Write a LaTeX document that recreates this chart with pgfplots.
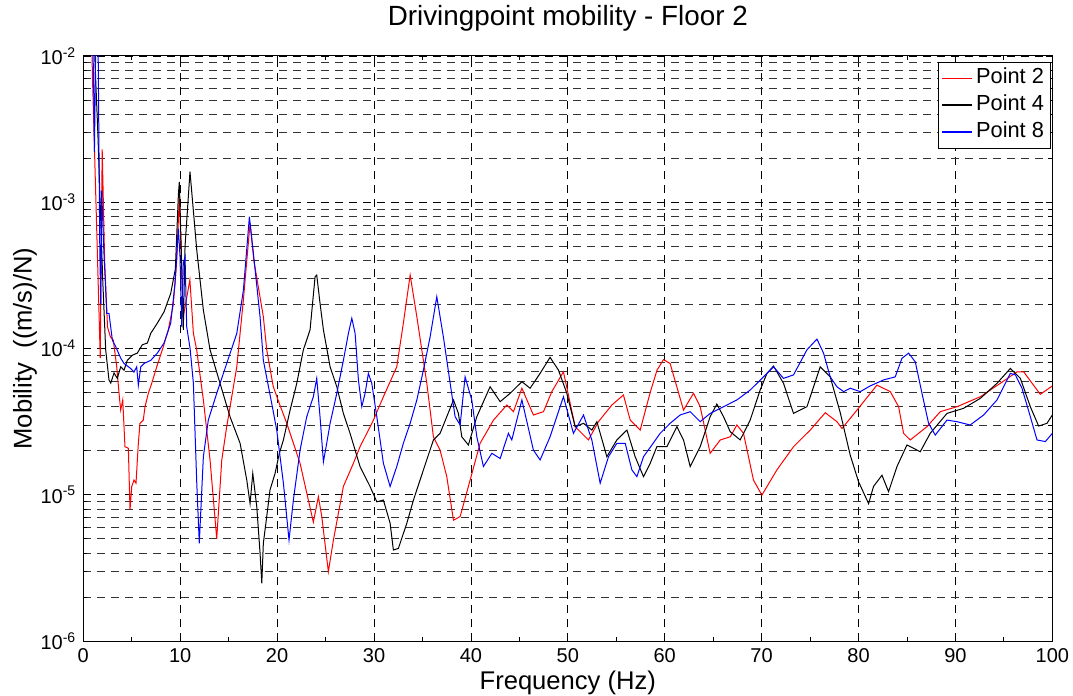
\documentclass[border=0pt]{standalone}
\usepackage{fontspec}
\setmainfont{Liberation Sans}
\usepackage{pgfplots}
\pgfplotsset{compat=1.18}
\definecolor{pred}{RGB}{255,0,0}
\definecolor{pblue}{RGB}{0,0,255}
\begin{document}
\begin{tikzpicture}
\begin{axis}[
  name=ax,
  scale only axis,
  width=484.5pt, height=292.5pt,
  xmin=0, xmax=100, ymin=1e-6, ymax=1e-2,
  ymode=log,
  axis line style={line width=0.5pt},
  xtick={0,10,...,100},
  minor xtick={5,15,...,95},
  ytick={1e-6,1e-5,1e-4,1e-3,1e-2},
  minor ytick={2e-6,3e-6,4e-6,5e-6,6e-6,7e-6,8e-6,9e-6,
               2e-5,3e-5,4e-5,5e-5,6e-5,7e-5,8e-5,9e-5,
               2e-4,3e-4,4e-4,5e-4,6e-4,7e-4,8e-4,9e-4,
               2e-3,3e-3,4e-3,5e-3,6e-3,7e-3,8e-3,9e-3},
  yticklabels={10\textsuperscript{-6},10\textsuperscript{-5},10\textsuperscript{-4},10\textsuperscript{-3},10\textsuperscript{-2}},
  major tick length=3pt, minor tick length=2pt,
  tick style={black, line width=0.4pt},
  xmajorgrids, ymajorgrids, yminorgrids,
  major grid style={black, dash pattern=on 4pt off 3pt, line width=0.4pt},
  minor grid style={black!80, dash pattern=on 4pt off 3pt, line width=0.4pt},
  ticklabel style={font=\fontsize{10}{12}\selectfont},
  /pgf/number format/assume math mode=true,
  title={Drivingpoint mobility - Floor 2},
  title style={at={(axis description cs:0.5,1)}, anchor=base, yshift=9.2pt, font=\fontsize{13.9}{16}\selectfont},
  xlabel={Frequency (Hz)},
  xlabel style={at={(axis description cs:0.5,-0.0718)}, anchor=center, font=\fontsize{12.8}{15}\selectfont},
  ylabel={Mobility\ \ ((m/s)/N)},
  ylabel style={at={(axis description cs:-0.0602,0.5)}, anchor=center, font=\fontsize{12.8}{15}\selectfont},
  legend cell align=left,
  legend image code/.code={\draw[#1, line width=0.8pt] (0pt,0pt) -- (15pt,0pt);},
  legend style={at={(axis description cs:0.998,0.99)}, anchor=north east,
    inner sep=1.5pt,
    font=\fontsize{10.9}{12}\selectfont,
    nodes={inner sep=1.5pt, text height=7.8pt, text depth=2.5pt}},
  every axis plot/.append style={line width=0.5pt},
]
\addplot[color=pred] coordinates {
(0.8,2e-2) (0.95,7e-3) (1.4,6e-4) (1.75,8.6e-5) (1.95,2.3e-3) (2.2,4e-4) (2.5,1.4e-4)
(2.8,1.2e-4) (3.10,1.14e-4) (3.45,7.5e-5) (3.72,4.68e-5) (3.86,3.79e-5) (4.07,4.45e-5)
(4.30,2.13e-5) (4.65,2.08e-5) (4.82,7.9e-6) (5.00,1.14e-5) (5.23,1.26e-5) (5.44,1.2e-5)
(5.68,2.25e-5) (5.85,3.08e-5) (6.19,3.24e-5) (6.37,4.0e-5) (6.71,4.94e-5) (7.06,5.78e-5)
(7.58,7.5e-5) (8.26,1.03e-4) (8.77,1.34e-4) (9.29,2.0e-4) (9.64,4.0e-4) (9.91,1.09e-3)
(10.32,1.65e-4) (11.0,2.95e-4) (11.36,1.27e-4) (11.7,9.8e-5) (12.39,4.45e-5) (13.08,1.73e-5)
(13.77,5.0e-6) (14.29,1.73e-5) (14.80,2.92e-5) (15.84,7.5e-5) (16.52,2.15e-4) (17.21,7.2e-4)
(17.6,4.0e-4) (18.58,1.65e-4) (18.93,9.8e-5) (19.6,5.5e-5) (20.23,4.2e-5) (21.0,3.08e-5)
(22.37,1.64e-5) (23.74,6.5e-6) (24.26,9.7e-6) (24.61,7.1e-6) (25.29,2.98e-6) (25.81,4.9e-6)
(26.84,1.14e-5) (27.87,1.64e-5) (28.56,2.13e-5) (29.94,3.24e-5) (30.97,4.68e-5) (32.35,7.5e-5)
(33.03,1.49e-4) (33.73,3.18e-4) (34.42,1.65e-4) (35.45,5.78e-5) (36.13,2.49e-5) (36.82,2.02e-5)
(37.51,1.33e-5) (38.20,6.7e-6) (38.89,7.1e-6) (39.92,1.26e-5) (40.95,2.25e-5) (42.33,3.24e-5)
(43.71,4.11e-5) (44.39,3.7e-5) (45.26,5.35e-5) (46.45,3.51e-5) (47.49,3.7e-5) (48.35,5.07e-5)
(49.55,6.93e-5) (50.76,2.92e-5) (52.13,2.37e-5) (53.16,3.16e-5) (54.55,4.11e-5) (55.74,4.81e-5)
(56.44,3.24e-5) (57.47,2.77e-5) (58.50,5.0e-5) (59.2,7.1e-5) (59.87,8.4e-5) (60.56,7.9e-5)
(61.94,3.79e-5) (62.97,4.94e-5) (63.66,4.0e-5) (64.69,1.92e-5) (65.73,2.37e-5) (66.76,2.49e-5)
(67.45,3.0e-5) (68.13,2.63e-5) (69.16,1.26e-5) (70.03,9.95e-6) (71.58,1.48e-5) (73.29,2.13e-5)
(75.02,2.77e-5) (76.57,3.64e-5) (77.77,3.16e-5) (78.29,2.84e-5) (79.84,3.79e-5) (81.90,5.62e-5)
(83.28,5.07e-5) (84.14,4.0e-5) (84.65,2.63e-5) (85.34,2.37e-5) (87.06,2.92e-5) (88.44,3.7e-5)
(90.16,4.0e-5) (92.57,4.68e-5) (94.63,5.78e-5) (96.36,6.93e-5) (97.04,6.93e-5) (98.76,4.86e-5)
(100,5.55e-5)
};
\addlegendentry{Point 2}
\addplot[color=black] coordinates {
(1.0,2e-2) (1.5,3e-3) (2.0,3e-4) (2.31,9.8e-5) (2.65,6.1e-5) (2.83,5.8e-5) (3.17,6.8e-5)
(3.51,6.25e-5) (3.86,7.5e-5) (4.2,7.1e-5) (4.54,8.3e-5) (5.06,9.0e-5) (5.57,9.3e-5)
(6.09,1.06e-4) (6.61,1.09e-4) (6.96,1.27e-4) (7.64,1.49e-4) (8.33,1.78e-4) (9.02,2.38e-4)
(9.5,3.5e-4) (9.81,1.12e-3) (9.91,1.38e-3) (10.1,5e-4)
(10.32,1.34e-4) (10.5,5e-4) (11.01,1.62e-3) (11.71,4.7e-4) (12.39,1.83e-4) (13.08,9.8e-5)
(14.11,5.78e-5) (15.14,3.42e-5) (16.18,2.25e-5) (16.87,1.26e-5) (17.21,8.7e-6) (17.49,1.4e-5)
(17.90,8.3e-6) (18.24,4.0e-6) (18.42,2.48e-6) (18.58,4.66e-6) (18.93,7.1e-6) (19.27,1.08e-5)
(19.79,1.4e-5) (20.23,1.92e-5) (20.65,2.37e-5) (21.34,3.79e-5) (22.03,5.78e-5) (22.71,9.8e-5)
(23.40,1.34e-4) (23.92,3.1e-4) (24.09,3.18e-4) (24.43,2.04e-4) (24.78,1.34e-4) (25.47,7.5e-5)
(26.16,5.48e-5) (26.84,3.6e-5) (27.53,2.63e-5) (28.56,1.56e-5) (29.59,1.14e-5) (30.29,8.95e-6)
(30.97,9.2e-6) (31.66,6.4e-6) (32.00,4.19e-6) (32.52,4.3e-6) (33.39,6.4e-6) (34.07,9.2e-6)
(35.10,1.48e-5) (36.13,2.37e-5) (36.82,2.63e-5) (37.51,3.42e-5) (38.20,4.45e-5) (38.71,3.6e-5)
(39.06,2.49e-5) (39.74,2.19e-5) (40.61,3.42e-5) (41.98,5.48e-5) (43.02,4.33e-5) (44.05,4.94e-5)
(45.26,5.93e-5) (46.11,5.35e-5) (47.14,6.76e-5) (48.17,8.7e-5) (49.03,7.13e-5) (49.90,4.94e-5)
(50.76,2.92e-5) (51.62,3.08e-5) (52.48,2.77e-5) (53.00,3.16e-5) (54.03,1.82e-5) (55.06,2.37e-5)
(56.10,2.77e-5) (56.95,1.82e-5) (57.81,1.33e-5) (58.50,1.64e-5) (59.19,2.13e-5) (60.22,2.13e-5)
(61.26,2.92e-5) (61.94,2.37e-5) (62.63,1.56e-5) (63.66,2.13e-5) (64.69,3.42e-5) (65.38,4.17e-5)
(66.07,3.42e-5) (66.76,2.7e-5) (67.79,2.37e-5) (68.82,3.24e-5) (69.85,5.2e-5) (70.55,6.76e-5)
(71.23,7.59e-5) (72.26,5.78e-5) (73.29,3.6e-5) (74.68,4.0e-5) (76.05,7.5e-5) (77.08,6.4e-5)
(78.12,3.63e-5) (79.15,1.86e-5) (80.0,1.23e-5) (81.04,8.7e-6) (81.55,1.14e-5) (82.42,1.36e-5)
(83.10,1.05e-5) (83.97,1.56e-5) (85.00,2.19e-5) (86.37,1.97e-5) (87.40,2.63e-5) (89.13,3.6e-5)
(90.84,3.9e-5) (92.57,4.56e-5) (94.29,5.78e-5) (95.67,7.31e-5) (96.70,6.25e-5) (97.73,4.0e-5)
(98.59,2.95e-5) (99.45,3.08e-5) (100,3.51e-5)
};
\addlegendentry{Point 4}
\addplot[color=pblue] coordinates {
(0.85,2e-2) (1.05,8e-3) (1.15,2.2e-3) (1.3,1.5e-2) (1.5,2e-2) (1.7,5e-4) (1.8,2e-4)
(1.9,1.2e-3) (2.1,5e-4) (2.42,1.74e-4) (2.65,1.74e-4) (3.0,1.14e-4) (3.34,1.03e-4) (3.86,8.6e-5)
(4.2,7.9e-5) (4.89,7.3e-5) (5.23,6.9e-5) (5.51,7.5e-5) (5.68,5.6e-5) (5.93,7.5e-5) (6.27,7.9e-5)
(6.96,8.3e-5) (7.64,9.3e-5) (8.33,1.09e-4) (9.02,1.49e-4) (9.47,2.8e-4) (9.81,6.6e-4)
(9.98,4.25e-4) (10.16,1.41e-4) (10.32,3.83e-4) (10.50,4.25e-4) (10.67,1.41e-4) (11.02,1.0e-4)
(11.36,5.8e-5) (11.71,1.2e-5) (11.97,4.66e-6) (12.39,1.82e-5) (12.90,3.24e-5) (13.77,4.94e-5)
(14.80,7.9e-5) (15.84,1.27e-4) (16.52,2.5e-4) (17.14,7.96e-4) (17.55,4.5e-4) (18.24,1.65e-4)
(18.58,8.3e-5) (19.45,4.2e-5) (19.96,2.77e-5) (20.65,1.2e-5) (21.23,4.9e-6) (21.68,9.2e-6)
(22.37,2.02e-5) (23.06,3.42e-5) (23.74,4.68e-5) (24.09,6.25e-5) (24.43,3.42e-5) (24.78,1.68e-5)
(25.12,2.25e-5) (25.47,3.08e-5) (26.16,4.94e-5) (26.84,8.3e-5) (27.36,1.27e-4) (27.71,1.61e-4)
(28.05,1.27e-4) (28.39,6.1e-5) (28.74,4.0e-5) (29.08,4.94e-5) (29.42,6.76e-5) (29.77,5.78e-5)
(30.29,3.42e-5) (30.97,1.64e-5) (31.66,1.14e-5) (32.35,1.56e-5) (33.03,2.25e-5) (33.73,3.08e-5)
(34.42,4.45e-5) (35.10,7.13e-5) (35.79,1.2e-4) (36.48,2.26e-4) (37.16,1.2e-4) (37.86,5.78e-5)
(38.37,3.42e-5) (38.89,3.0e-5) (39.40,6.4e-5) (40.09,4.45e-5) (40.61,2.49e-5) (41.29,1.56e-5)
(42.16,1.92e-5) (43.02,1.77e-5) (43.87,2.63e-5) (44.22,2.37e-5) (45.26,4.45e-5) (46.45,2.02e-5)
(47.14,1.73e-5) (48.17,2.49e-5) (49.55,4.68e-5) (50.58,2.63e-5) (51.62,3.51e-5) (52.48,2.37e-5)
(53.34,1.2e-5) (54.20,1.82e-5) (55.06,2.25e-5) (55.92,2.25e-5) (56.61,1.48e-5) (57.13,1.33e-5)
(57.81,1.82e-5) (58.68,2.19e-5) (59.53,2.63e-5) (60.56,3.08e-5) (61.59,3.51e-5) (62.63,3.7e-5)
(63.66,3.16e-5) (64.69,3.6e-5) (66.07,4.0e-5) (67.45,4.45e-5) (68.82,5.2e-5) (70.20,6.4e-5)
(71.23,7.5e-5) (72.26,6.25e-5) (73.29,6.6e-5) (74.68,9.8e-5) (75.71,1.16e-4) (76.39,9.3e-5)
(77.08,6.4e-5) (77.77,5.48e-5) (78.46,5.07e-5) (79.15,5.35e-5) (80.18,5.07e-5) (81.21,5.55e-5)
(82.59,6.1e-5) (83.79,6.4e-5) (84.48,8.57e-5) (85.17,9.3e-5) (85.86,8.1e-5) (86.55,4.94e-5)
(87.23,3.08e-5) (87.92,2.56e-5) (89.13,3.24e-5) (90.16,3.16e-5) (91.53,3.0e-5) (92.91,3.51e-5)
(94.29,4.45e-5) (95.67,6.76e-5) (96.19,6.6e-5) (96.87,5.35e-5) (97.73,3.42e-5) (98.42,2.37e-5)
(99.28,2.31e-5) (100,2.63e-5)
};
\addlegendentry{Point 8}
\end{axis}
\pgfresetboundingbox
\path ([xshift=-41.65pt,yshift=-27pt]ax.south west) rectangle ([xshift=10.35pt,yshift=28pt]ax.north east);
\end{tikzpicture}
\end{document}
